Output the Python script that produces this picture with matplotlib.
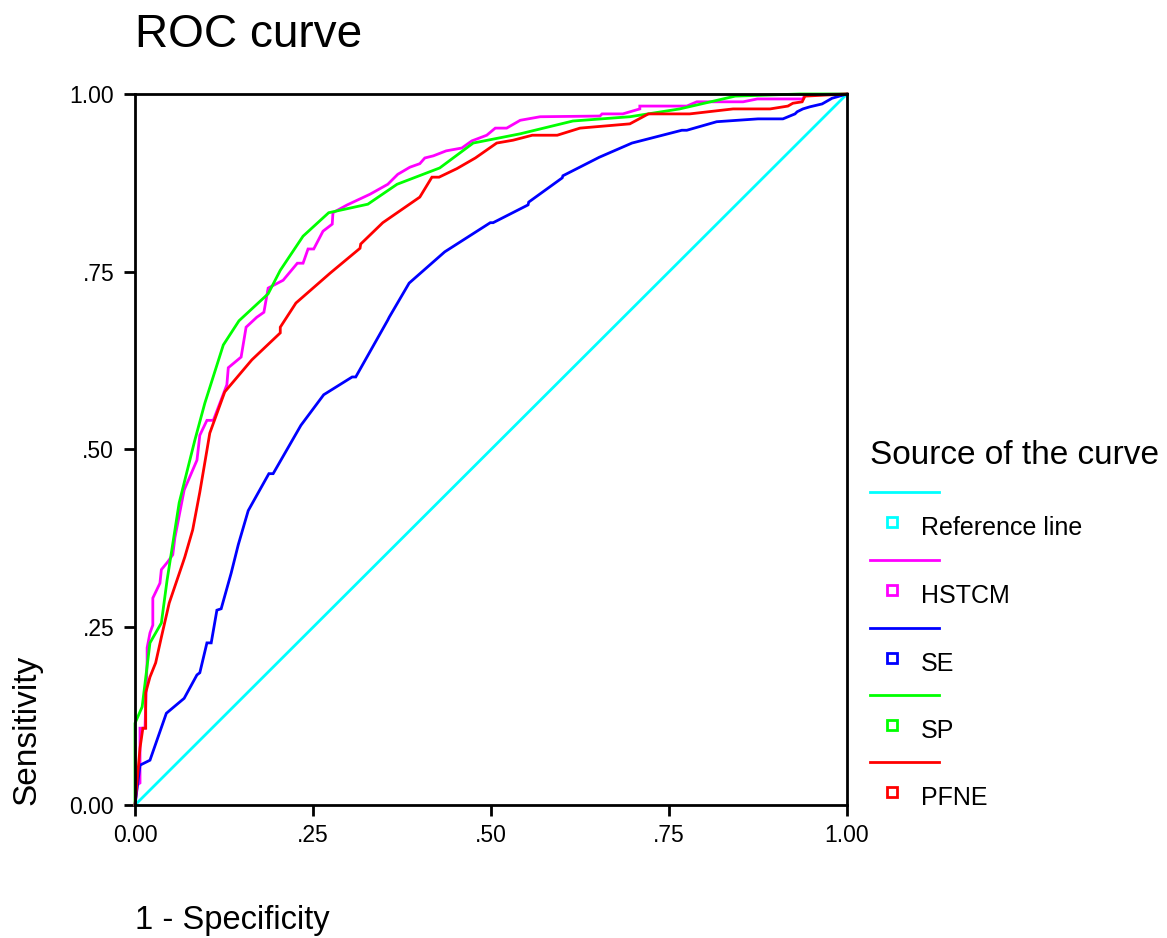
import matplotlib
matplotlib.use("Agg")
import matplotlib.pyplot as plt
from matplotlib.lines import Line2D
from matplotlib.patches import Rectangle

plt.rcParams['font.family'] = ['Liberation Sans', 'DejaVu Sans']

# ROC points: (1 - specificity, sensitivity)
hstcm_x = [0, 0.003, 0.007, 0.007, 0.014, 0.017, 0.017, 0.021, 0.025, 0.025, 0.035, 0.037,
           0.046, 0.053, 0.056, 0.069, 0.087, 0.091, 0.101, 0.110, 0.129, 0.131, 0.149, 0.156,
           0.171, 0.181, 0.187, 0.208, 0.228, 0.236, 0.243, 0.251, 0.264, 0.277, 0.278, 0.298,
           0.330, 0.355, 0.369, 0.386, 0.400, 0.407, 0.419, 0.437, 0.459, 0.473, 0.494, 0.506,
           0.522, 0.541, 0.569, 0.653, 0.656, 0.685, 0.709, 0.709, 0.775, 0.789, 0.854, 0.874,
           0.938, 0.941, 1.0]
hstcm_y = [0, 0.028, 0.031, 0.108, 0.108, 0.204, 0.221, 0.242, 0.253, 0.291, 0.312, 0.331,
           0.342, 0.352, 0.376, 0.443, 0.485, 0.520, 0.541, 0.541, 0.591, 0.615, 0.630, 0.672,
           0.686, 0.693, 0.727, 0.738, 0.762, 0.762, 0.782, 0.782, 0.807, 0.817, 0.833, 0.844,
           0.859, 0.873, 0.887, 0.897, 0.902, 0.910, 0.913, 0.920, 0.924, 0.934, 0.942, 0.952,
           0.952, 0.963, 0.968, 0.969, 0.972, 0.972, 0.979, 0.983, 0.983, 0.989, 0.989, 0.993,
           0.993, 0.999, 1.0]

se_x = [0, 0.007, 0.021, 0.044, 0.069, 0.087, 0.091, 0.101, 0.107, 0.115, 0.121, 0.135,
        0.145, 0.159, 0.188, 0.194, 0.233, 0.265, 0.305, 0.310, 0.355, 0.357, 0.385, 0.435,
        0.499, 0.503, 0.552, 0.553, 0.600, 0.601, 0.652, 0.698, 0.768, 0.775, 0.817, 0.875,
        0.910, 0.927, 0.930, 0.938, 0.948, 0.965, 0.979, 1.0]
se_y = [0, 0.056, 0.063, 0.129, 0.150, 0.183, 0.186, 0.228, 0.228, 0.274, 0.276, 0.326,
        0.366, 0.414, 0.466, 0.466, 0.534, 0.577, 0.602, 0.602, 0.682, 0.686, 0.734, 0.778,
        0.819, 0.819, 0.844, 0.848, 0.882, 0.885, 0.911, 0.931, 0.949, 0.949, 0.961, 0.965,
        0.965, 0.972, 0.975, 0.979, 0.982, 0.986, 0.994, 1.0]

sp_x = [0, 0, 0.010, 0.021, 0.037, 0.045, 0.062, 0.084, 0.098, 0.124, 0.146, 0.187, 0.204,
        0.236, 0.272, 0.327, 0.368, 0.428, 0.475, 0.541, 0.615, 0.695, 0.765, 0.843, 0.934, 1.0]
sp_y = [0, 0.115, 0.138, 0.228, 0.256, 0.316, 0.425, 0.513, 0.565, 0.647, 0.681, 0.719, 0.752,
        0.800, 0.833, 0.845, 0.873, 0.896, 0.931, 0.944, 0.962, 0.968, 0.979, 0.997, 1.0, 1.0]

pfne_x = [0, 0.007, 0.011, 0.015, 0.015, 0.021, 0.029, 0.037, 0.048, 0.067, 0.070, 0.081,
          0.091, 0.101, 0.105, 0.126, 0.164, 0.204, 0.204, 0.226, 0.274, 0.316, 0.317, 0.348,
          0.400, 0.417, 0.427, 0.452, 0.478, 0.508, 0.531, 0.558, 0.593, 0.625, 0.695, 0.721,
          0.779, 0.840, 0.892, 0.917, 0.924, 0.937, 0.941, 1.0]
pfne_y = [0, 0.080, 0.108, 0.108, 0.158, 0.180, 0.200, 0.236, 0.284, 0.340, 0.349, 0.387,
          0.440, 0.499, 0.523, 0.581, 0.626, 0.664, 0.672, 0.706, 0.748, 0.783, 0.789, 0.819,
          0.855, 0.883, 0.883, 0.895, 0.910, 0.931, 0.935, 0.942, 0.942, 0.952, 0.958, 0.972,
          0.972, 0.979, 0.979, 0.983, 0.987, 0.989, 0.997, 1.0]

ref_x = [0, 1]
ref_y = [0, 1]

labels = ['Reference line', 'HSTCM', 'SE', 'SP', 'PFNE']
colors = ['#00ffff', '#ff00ff', '#0000ff', '#00ff00', '#ff0000']
ticks = [0, 0.25, 0.5, 0.75, 1.0]
tick_labels = ['0.00', '.25', '.50', '.75', '1.00']

fig = plt.figure(figsize=(11.67, 9.38), dpi=100)
ax = fig.add_axes([0.1157, 0.1418, 0.6101, 0.758])

series = [(ref_x, ref_y), (hstcm_x, hstcm_y), (se_x, se_y), (sp_x, sp_y), (pfne_x, pfne_y)]
for (xs, ys), c in zip(series, colors):
    ax.plot(xs, ys, color=c, lw=2.0, solid_joinstyle='miter', clip_on=False)

ax.set_xlim(0, 1)
ax.set_ylim(0, 1)
ax.set_xticks(ticks)
ax.set_xticklabels(tick_labels)
ax.set_yticks(ticks)
ax.set_yticklabels(tick_labels)
ax.tick_params(length=8, width=2, labelsize=16.5, pad=6)
ax.tick_params(axis='y', pad=7)
for s in ax.spines.values():
    s.set_linewidth(2)

fig.text(135 / 1167, 1 - 35 / 938, 'ROC curve', fontsize=33, va='center', ha='left')
fig.text(135 / 1167, 1 - 920 / 938, '1 - Specificity', fontsize=23.5, va='center', ha='left')
fig.text(27 / 1167, 1 - 805 / 938, 'Sensitivity', fontsize=24, rotation=90,
         va='bottom', ha='center')

# legend drawn by hand to mimic the SPSS layout
W, H = 1167, 938
fig.text(870 / W, 1 - 455 / H, 'Source of the curve', fontsize=24, va='center', ha='left')
line_y = [492, 560, 628, 695, 762]
for i, (lab, c) in enumerate(zip(labels, colors)):
    ly = line_y[i]
    fig.add_artist(Line2D([870 / W, 939 / W], [1 - ly / H, 1 - ly / H], color=c, lw=2))
    sy = ly + 30
    fig.add_artist(Rectangle(((887) / W, 1 - (sy + 5) / H), 10 / W, 10 / H,
                             fill=False, edgecolor=c, lw=2))
    fig.text(921 / W, 1 - (sy + 6) / H, lab, fontsize=18, va='center', ha='left')

fig.savefig('out.png', dpi=100)
